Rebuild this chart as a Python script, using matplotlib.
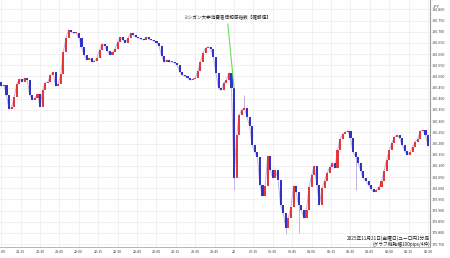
import numpy as np
import matplotlib
matplotlib.use("Agg")
import matplotlib.pyplot as plt
from matplotlib.ticker import MultipleLocator, FormatStrFormatter

plt.rcParams['font.family'] = ['Noto Sans CJK JP', 'DejaVu Sans']

# EUR/JPY, 21:00 -> 02:30 JST, closes every 2 minutes
step_min = 2
first_open = 180.475
closes = [
    180.457, 180.462, 180.417, 180.354, 180.363, 180.408, 180.466, 180.489, 180.475, 180.493,
    180.484, 180.417, 180.395, 180.404, 180.421, 180.363, 180.439, 180.471, 180.475, 180.506,
    180.520, 180.457, 180.466, 180.511, 180.609, 180.672, 180.708, 180.699, 180.694, 180.694,
    180.672, 180.632, 180.596, 180.574, 180.583, 180.565, 180.569, 180.583, 180.618, 180.645,
    180.636, 180.614, 180.596, 180.609, 180.623, 180.654, 180.676, 180.663, 180.650, 180.672,
    180.694, 180.685, 180.676, 180.672, 180.667, 180.663, 180.676, 180.667, 180.663, 180.659,
    180.650, 180.636, 180.591, 180.565, 180.574, 180.565, 180.565, 180.560, 180.551, 180.520,
    180.506, 180.502, 180.493, 180.484, 180.489, 180.493, 180.524, 180.565, 180.605, 180.627,
    180.632, 180.623, 180.587, 180.515, 180.448, 180.439, 180.471, 180.484, 180.515, 180.448,
    180.046, 180.238, 180.328, 180.350, 180.359, 180.319, 180.278, 180.193, 180.162, 180.140,
    180.014, 179.965, 180.010, 180.144, 180.081, 180.046, 180.081, 180.037, 179.925, 179.889,
    179.822, 179.867, 179.916, 180.010, 179.983, 179.925, 179.902, 179.867, 179.902, 180.005,
    180.059, 180.099, 180.014, 179.925, 180.001, 180.032, 180.068, 180.095, 180.113, 180.090,
    180.171, 180.220, 180.242, 180.251, 180.256, 180.225, 180.162, 180.140, 180.113, 180.077,
    180.046, 180.032, 180.014, 179.996, 179.983, 179.992, 180.005, 180.032, 180.077, 180.126,
    180.171, 180.202, 180.229, 180.238, 180.225, 180.193, 180.166, 180.149, 180.162, 180.184,
    180.207, 180.220, 180.256, 180.260, 180.238, 180.189,
]

# the few wicks that stand out
wick_idx = [90, 94, 110, 115, 137]
wick_top = [180.448, 180.417, 179.822, 179.925, 180.140]
wick_bottom = [179.992, 180.359, 179.795, 179.800, 179.990]

time_labels = ["21:00", "21:15", "21:30", "21:45", "22:00", "22:15", "22:30", "22:45",
               "23:00", "23:15", "23:30", "23:45", "22", "00:15", "00:30", "00:45",
               "01:00", "01:15", "01:30", "01:45", "02:00", "02:15", "02:30"]

event_idx = 90
event_text = "ミシガン大学消費者信頼感指数【確報値】"
caption = "2025年11月21日(金曜日)ユーロ円1分足\n(グラフ縦軸幅100pips/4枠)"

UP = "#e2383c"
DOWN = "#2f33c8"
WICK = "#c3b0e2"
GRID = "#ebebeb"

closes = np.array(closes)
opens = np.concatenate([[first_open], closes[:-1]])
t = np.arange(len(closes)) * step_min

fig = plt.figure(figsize=(4.5, 2.58), dpi=100)
ax = fig.add_axes([0.0, 11 / 258, 430 / 450, 247 / 258])

ax.vlines(np.array(wick_idx) * step_min, wick_bottom, wick_top, color=WICK, lw=0.7, zorder=2)

# faint close-to-close trace under the bodies
ax.plot(t, closes, color=WICK, lw=0.7, zorder=2)

colors = np.where(closes >= opens, UP, DOWN)
heights = np.maximum(np.abs(closes - opens), 0.003)
ax.bar(t, heights, bottom=np.minimum(opens, closes), width=1.6,
       color=colors, linewidth=0, zorder=3)

# news marker
ax.annotate(event_text, xy=(event_idx * step_min, opens[event_idx]),
            xytext=(-5, 51), textcoords="offset points",
            ha="center", va="center", fontsize=3.3, color="#222222",
            arrowprops=dict(arrowstyle="-", color="#66dd55", lw=0.8,
                            shrinkA=1, shrinkB=0))

ax.text(1.0, 0.002, caption, transform=ax.transAxes, ha="right", va="bottom",
        fontsize=3.4, color="#222222", linespacing=1.0, zorder=5)

ax.set_xlim(-1.0, 331.5)
ax.set_ylim(179.737, 180.842)

ax.set_xticks(np.arange(len(time_labels)) * 15)
ax.set_xticklabels(time_labels)
ax.yaxis.set_major_locator(MultipleLocator(0.05))
ax.yaxis.set_major_formatter(FormatStrFormatter("%.3f"))
ax.yaxis.tick_right()
ax.tick_params(axis="both", length=0, labelsize=2.7, colors="#444444", pad=2)
ax.tick_params(axis="y", pad=1.5)
ax.grid(True, color=GRID, lw=0.5)
ax.set_axisbelow(True)

for side in ("top", "left"):
    ax.spines[side].set_visible(False)
ax.spines["bottom"].set_color("#aaaaaa")
ax.spines["right"].set_color("#999999")
ax.spines["bottom"].set_linewidth(0.6)
ax.spines["right"].set_linewidth(0.8)

fig.text(433 / 450, 1 - 7 / 258, "JPY", fontsize=2.8, color="#333333", va="center")

fig.savefig("out.png", dpi=100)
